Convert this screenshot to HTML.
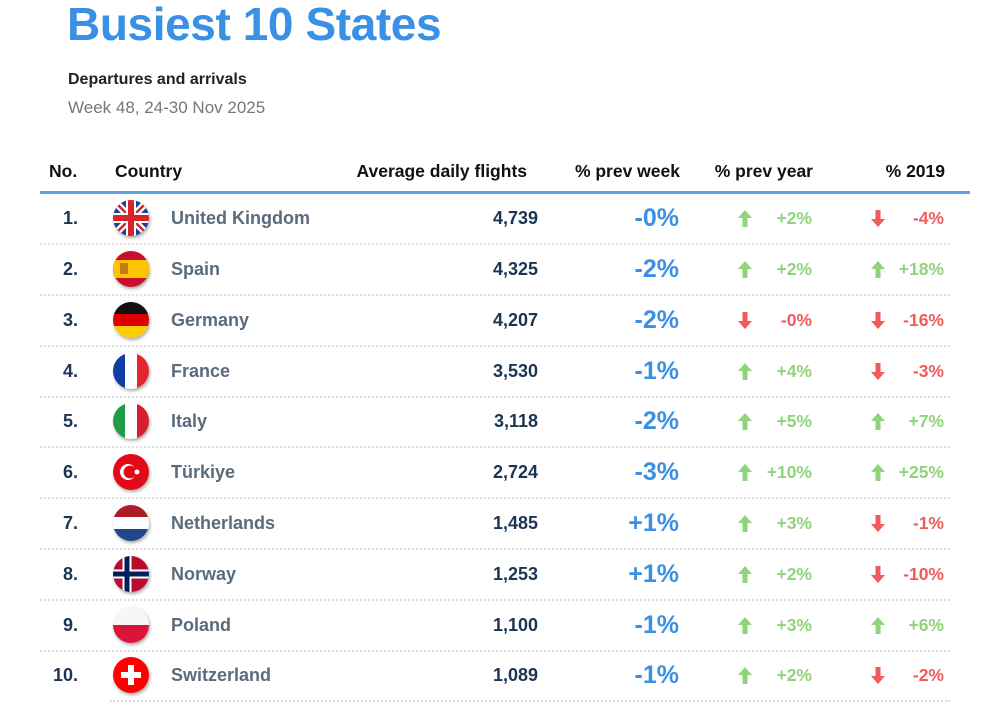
<!DOCTYPE html>
<html><head><meta charset="utf-8"><style>
body{margin:0;width:996px;height:706px;background:#fff;font-family:"Liberation Sans",Arial,sans-serif;position:relative;overflow:hidden}
.a{position:absolute}
h1{position:absolute;left:67px;top:-3px;margin:0;font-size:46px;font-weight:bold;color:#3a90e5;letter-spacing:-0.4px}
.hd{position:absolute;top:161px;font-size:17.5px;font-weight:bold;color:#111;white-space:nowrap}
.row{position:absolute;left:0;width:996px;height:51px;line-height:51px}
.row .sep{position:absolute;left:40px;width:910px;top:50px;border-top:2px dotted #ddd}
.no{position:absolute;right:918px;font-size:18px;font-weight:bold;color:#1b3553}
.fl{position:absolute;left:113px;top:7px;width:36px;height:36px;border-radius:50%;overflow:hidden;box-shadow:1px 2px 3px rgba(0,0,0,.35)}
.fl svg{display:block}
.cn{position:absolute;left:171px;font-size:18px;font-weight:bold;color:#5a6b7d}
.fv{position:absolute;right:458px;font-size:18px;font-weight:bold;color:#1b3553}
.pw{position:absolute;right:317px;font-size:25px;font-weight:bold;color:#3a90e5}
.ar{position:absolute;top:17px}
.py{position:absolute;right:184px;font-size:17.5px;font-weight:bold}
.p19{position:absolute;right:52px;font-size:17.5px;font-weight:bold}
.g{color:#8fd47a}.r{color:#f05a5a}
</style></head><body>
<h1>Busiest 10 States</h1>
<div class="a" style="left:68px;top:71px;font-size:16px;font-weight:bold;color:#222">Departures and arrivals</div>
<div class="a" style="left:68px;top:98px;font-size:17px;color:#777">Week 48, 24-30 Nov 2025</div>
<div class="hd" style="left:49px">No.</div>
<div class="hd" style="left:115px">Country</div>
<div class="hd" style="right:469px">Average daily flights</div>
<div class="hd" style="right:316px">% prev week</div>
<div class="hd" style="right:183px">% prev year</div>
<div class="hd" style="right:51px">% 2019</div>
<div class="a" style="left:40px;top:191px;width:930px;height:3px;background:#5fa3e0"></div>

<svg width="0" height="0" style="position:absolute"><defs>
<symbol id="up" viewBox="0 0 14 17"><path d="M7 0 L14 8 L9.5 8 L9.5 17 L4.5 17 L4.5 8 L0 8Z" fill="#8fd47a"/></symbol>
<symbol id="dn" viewBox="0 0 14 17"><path d="M7 17 L14 9 L9.5 9 L9.5 0 L4.5 0 L4.5 9 L0 9Z" fill="#f05a5a"/></symbol>
</defs></svg>

<div class="row" style="top:193px"><div class="no">1.</div>
<div class="fl"><svg width="36" height="36" viewBox="0 0 36 36"><rect width="36" height="36" fill="#1f3f8f"/><path d="M0 0L36 36M36 0L0 36" stroke="#fff" stroke-width="7"/><path d="M0 0L36 36M36 0L0 36" stroke="#d8232a" stroke-width="2.5"/><path d="M18 0V36M0 18H36" stroke="#fff" stroke-width="10"/><path d="M18 0V36M0 18H36" stroke="#d8232a" stroke-width="6"/></svg></div>
<div class="cn">United Kingdom</div><div class="fv">4,739</div><div class="pw">-0%</div>
<svg class="ar" style="left:738px" width="14" height="17"><use href="#up"/></svg><div class="py g">+2%</div>
<svg class="ar" style="left:871px" width="14" height="17"><use href="#dn"/></svg><div class="p19 r">-4%</div><div class="sep"></div></div>

<div class="row" style="top:244px"><div class="no">2.</div>
<div class="fl"><svg width="36" height="36"><rect width="36" height="36" fill="#c8102e"/><rect y="9" width="36" height="18" fill="#ffc400"/><rect x="7" y="12" width="8" height="11" fill="#b5651d" opacity=".8"/></svg></div>
<div class="cn">Spain</div><div class="fv">4,325</div><div class="pw">-2%</div>
<svg class="ar" style="left:738px" width="14" height="17"><use href="#up"/></svg><div class="py g">+2%</div>
<svg class="ar" style="left:871px" width="14" height="17"><use href="#up"/></svg><div class="p19 g">+18%</div><div class="sep"></div></div>

<div class="row" style="top:295px"><div class="no">3.</div>
<div class="fl"><svg width="36" height="36"><rect width="36" height="12" fill="#111"/><rect y="12" width="36" height="12" fill="#dd0000"/><rect y="24" width="36" height="12" fill="#ffce00"/></svg></div>
<div class="cn">Germany</div><div class="fv">4,207</div><div class="pw">-2%</div>
<svg class="ar" style="left:738px" width="14" height="17"><use href="#dn"/></svg><div class="py r">-0%</div>
<svg class="ar" style="left:871px" width="14" height="17"><use href="#dn"/></svg><div class="p19 r">-16%</div><div class="sep"></div></div>

<div class="row" style="top:346px"><div class="no">4.</div>
<div class="fl"><svg width="36" height="36"><rect width="12" height="36" fill="#0f3fa6"/><rect x="12" width="12" height="36" fill="#fff"/><rect x="24" width="12" height="36" fill="#e1262d"/></svg></div>
<div class="cn">France</div><div class="fv">3,530</div><div class="pw">-1%</div>
<svg class="ar" style="left:738px" width="14" height="17"><use href="#up"/></svg><div class="py g">+4%</div>
<svg class="ar" style="left:871px" width="14" height="17"><use href="#dn"/></svg><div class="p19 r">-3%</div><div class="sep"></div></div>

<div class="row" style="top:396px"><div class="no">5.</div>
<div class="fl"><svg width="36" height="36"><rect width="12" height="36" fill="#1e9c4a"/><rect x="12" width="12" height="36" fill="#fff"/><rect x="24" width="12" height="36" fill="#d4202c"/></svg></div>
<div class="cn">Italy</div><div class="fv">3,118</div><div class="pw">-2%</div>
<svg class="ar" style="left:738px" width="14" height="17"><use href="#up"/></svg><div class="py g">+5%</div>
<svg class="ar" style="left:871px" width="14" height="17"><use href="#up"/></svg><div class="p19 g">+7%</div><div class="sep"></div></div>

<div class="row" style="top:447px"><div class="no">6.</div>
<div class="fl"><svg width="36" height="36"><rect width="36" height="36" fill="#e30a17"/><circle cx="15" cy="18" r="8" fill="#fff"/><circle cx="17" cy="18" r="6.4" fill="#e30a17"/><circle cx="24" cy="18" r="2.5" fill="#fff"/></svg></div>
<div class="cn">Türkiye</div><div class="fv">2,724</div><div class="pw">-3%</div>
<svg class="ar" style="left:738px" width="14" height="17"><use href="#up"/></svg><div class="py g">+10%</div>
<svg class="ar" style="left:871px" width="14" height="17"><use href="#up"/></svg><div class="p19 g">+25%</div><div class="sep"></div></div>

<div class="row" style="top:498px"><div class="no">7.</div>
<div class="fl"><svg width="36" height="36"><rect width="36" height="12" fill="#ae1c28"/><rect y="12" width="36" height="12" fill="#fff"/><rect y="24" width="36" height="12" fill="#21468b"/></svg></div>
<div class="cn">Netherlands</div><div class="fv">1,485</div><div class="pw">+1%</div>
<svg class="ar" style="left:738px" width="14" height="17"><use href="#up"/></svg><div class="py g">+3%</div>
<svg class="ar" style="left:871px" width="14" height="17"><use href="#dn"/></svg><div class="p19 r">-1%</div><div class="sep"></div></div>

<div class="row" style="top:549px"><div class="no">8.</div>
<div class="fl"><svg width="36" height="36"><rect width="36" height="36" fill="#ba0c2f"/><path d="M14 0V36M0 18H36" stroke="#fff" stroke-width="9"/><path d="M14 0V36M0 18H36" stroke="#00205b" stroke-width="5"/></svg></div>
<div class="cn">Norway</div><div class="fv">1,253</div><div class="pw">+1%</div>
<svg class="ar" style="left:738px" width="14" height="17"><use href="#up"/></svg><div class="py g">+2%</div>
<svg class="ar" style="left:871px" width="14" height="17"><use href="#dn"/></svg><div class="p19 r">-10%</div><div class="sep"></div></div>

<div class="row" style="top:600px"><div class="no">9.</div>
<div class="fl"><svg width="36" height="36"><rect width="36" height="18" fill="#f6f6f6"/><rect y="18" width="36" height="18" fill="#dc143c"/></svg></div>
<div class="cn">Poland</div><div class="fv">1,100</div><div class="pw">-1%</div>
<svg class="ar" style="left:738px" width="14" height="17"><use href="#up"/></svg><div class="py g">+3%</div>
<svg class="ar" style="left:871px" width="14" height="17"><use href="#up"/></svg><div class="p19 g">+6%</div><div class="sep"></div></div>

<div class="row" style="top:650px"><div class="no">10.</div>
<div class="fl"><svg width="36" height="36"><rect width="36" height="36" fill="#ff0000"/><rect x="15" y="8" width="6" height="20" fill="#fff"/><rect x="8" y="15" width="20" height="6" fill="#fff"/></svg></div>
<div class="cn">Switzerland</div><div class="fv">1,089</div><div class="pw">-1%</div>
<svg class="ar" style="left:738px" width="14" height="17"><use href="#up"/></svg><div class="py g">+2%</div>
<svg class="ar" style="left:871px" width="14" height="17"><use href="#dn"/></svg><div class="p19 r">-2%</div><div class="sep" style="left:110px;width:840px"></div></div>
</body></html>
